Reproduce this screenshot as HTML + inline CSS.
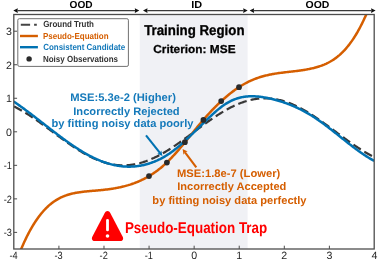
<!DOCTYPE html>
<html><head><meta charset="utf-8"><style>
html,body{margin:0;padding:0;background:#fff;}
body{width:381px;height:263px;overflow:hidden;}
svg{display:block;will-change:transform;text-rendering:geometricPrecision;font-family:"Liberation Sans",sans-serif;}
</style></head><body>
<svg width="381" height="263" viewBox="0 0 381 263">
<defs><clipPath id="ax"><rect x="13.8" y="14.5" width="360.4" height="234.5"/></clipPath></defs>
<rect x="139.8" y="14.5" width="107.8" height="234.5" fill="#F0F1F5"/>
<g clip-path="url(#ax)" fill="none" stroke-linejoin="round">
<path d="M13.80,106.41 L14.70,106.85 L15.61,107.31 L16.51,107.77 L17.41,108.24 L18.32,108.73 L19.22,109.22 L20.12,109.72 L21.03,110.23 L21.93,110.75 L22.83,111.28 L23.74,111.81 L24.64,112.36 L25.54,112.91 L26.45,113.47 L27.35,114.03 L28.25,114.60 L29.16,115.18 L30.06,115.77 L30.96,116.36 L31.87,116.96 L32.77,117.57 L33.67,118.18 L34.57,118.80 L35.48,119.42 L36.38,120.05 L37.28,120.68 L38.19,121.31 L39.09,121.95 L39.99,122.60 L40.90,123.25 L41.80,123.90 L42.70,124.55 L43.61,125.21 L44.51,125.87 L45.41,126.53 L46.32,127.20 L47.22,127.86 L48.12,128.53 L49.03,129.20 L49.93,129.87 L50.83,130.54 L51.74,131.21 L52.64,131.88 L53.54,132.56 L54.45,133.23 L55.35,133.90 L56.25,134.57 L57.16,135.24 L58.06,135.90 L58.96,136.57 L59.87,137.23 L60.77,137.90 L61.67,138.56 L62.58,139.21 L63.48,139.87 L64.38,140.52 L65.29,141.16 L66.19,141.81 L67.09,142.45 L68.00,143.08 L68.90,143.71 L69.80,144.34 L70.71,144.96 L71.61,145.57 L72.51,146.18 L73.42,146.79 L74.32,147.38 L75.22,147.98 L76.12,148.56 L77.03,149.14 L77.93,149.71 L78.83,150.28 L79.74,150.83 L80.64,151.38 L81.54,151.92 L82.45,152.46 L83.35,152.98 L84.25,153.50 L85.16,154.01 L86.06,154.50 L86.96,154.99 L87.87,155.47 L88.77,155.95 L89.67,156.41 L90.58,156.86 L91.48,157.30 L92.38,157.73 L93.29,158.15 L94.19,158.56 L95.09,158.96 L96.00,159.35 L96.90,159.73 L97.80,160.09 L98.71,160.45 L99.61,160.79 L100.51,161.12 L101.42,161.44 L102.32,161.75 L103.22,162.05 L104.13,162.33 L105.03,162.60 L105.93,162.86 L106.84,163.11 L107.74,163.34 L108.64,163.56 L109.55,163.77 L110.45,163.97 L111.35,164.15 L112.26,164.32 L113.16,164.48 L114.06,164.62 L114.96,164.75 L115.87,164.87 L116.77,164.97 L117.67,165.07 L118.58,165.14 L119.48,165.21 L120.38,165.26 L121.29,165.30 L122.19,165.32 L123.09,165.33 L124.00,165.33 L124.90,165.31 L125.80,165.28 L126.71,165.24 L127.61,165.18 L128.51,165.11 L129.42,165.03 L130.32,164.93 L131.22,164.82 L132.13,164.69 L133.03,164.56 L133.93,164.41 L134.84,164.25 L135.74,164.07 L136.64,163.88 L137.55,163.68 L138.45,163.46 L139.35,163.24 L140.26,163.00 L141.16,162.74 L142.06,162.48 L142.97,162.20 L143.87,161.91 L144.77,161.61 L145.68,161.30 L146.58,160.97 L147.48,160.63 L148.39,160.29 L149.29,159.93 L150.19,159.55 L151.10,159.17 L152.00,158.78 L152.90,158.37 L153.81,157.96 L154.71,157.53 L155.61,157.10 L156.51,156.65 L157.42,156.20 L158.32,155.73 L159.22,155.26 L160.13,154.77 L161.03,154.28 L161.93,153.77 L162.84,153.26 L163.74,152.74 L164.64,152.21 L165.55,151.68 L166.45,151.13 L167.35,150.58 L168.26,150.02 L169.16,149.45 L170.06,148.87 L170.97,148.29 L171.87,147.71 L172.77,147.11 L173.68,146.51 L174.58,145.90 L175.48,145.29 L176.39,144.67 L177.29,144.05 L178.19,143.42 L179.10,142.79 L180.00,142.15 L180.90,141.51 L181.81,140.87 L182.71,140.22 L183.61,139.57 L184.52,138.91 L185.42,138.25 L186.32,137.59 L187.23,136.93 L188.13,136.27 L189.03,135.60 L189.94,134.93 L190.84,134.26 L191.74,133.59 L192.65,132.92 L193.55,132.25 L194.45,131.58 L195.35,130.90 L196.26,130.23 L197.16,129.56 L198.06,128.89 L198.97,128.22 L199.87,127.56 L200.77,126.89 L201.68,126.23 L202.58,125.57 L203.48,124.91 L204.39,124.25 L205.29,123.60 L206.19,122.95 L207.10,122.30 L208.00,121.66 L208.90,121.02 L209.81,120.39 L210.71,119.76 L211.61,119.13 L212.52,118.51 L213.42,117.90 L214.32,117.29 L215.23,116.69 L216.13,116.09 L217.03,115.50 L217.94,114.92 L218.84,114.34 L219.74,113.77 L220.65,113.21 L221.55,112.65 L222.45,112.10 L223.36,111.57 L224.26,111.03 L225.16,110.51 L226.07,110.00 L226.97,109.49 L227.87,108.99 L228.78,108.50 L229.68,108.03 L230.58,107.56 L231.49,107.10 L232.39,106.65 L233.29,106.21 L234.19,105.78 L235.10,105.36 L236.00,104.95 L236.90,104.56 L237.81,104.17 L238.71,103.80 L239.61,103.43 L240.52,103.08 L241.42,102.74 L242.32,102.41 L243.23,102.09 L244.13,101.79 L245.03,101.49 L245.94,101.21 L246.84,100.94 L247.74,100.69 L248.65,100.44 L249.55,100.21 L250.45,99.99 L251.36,99.79 L252.26,99.59 L253.16,99.41 L254.07,99.24 L254.97,99.09 L255.87,98.95 L256.78,98.82 L257.68,98.71 L258.58,98.61 L259.49,98.52 L260.39,98.44 L261.29,98.38 L262.20,98.33 L263.10,98.30 L264.00,98.28 L264.91,98.27 L265.81,98.28 L266.71,98.30 L267.62,98.33 L268.52,98.37 L269.42,98.43 L270.33,98.51 L271.23,98.59 L272.13,98.69 L273.04,98.81 L273.94,98.93 L274.84,99.07 L275.74,99.22 L276.65,99.39 L277.55,99.57 L278.45,99.76 L279.36,99.97 L280.26,100.18 L281.16,100.41 L282.07,100.66 L282.97,100.91 L283.87,101.18 L284.78,101.46 L285.68,101.75 L286.58,102.05 L287.49,102.37 L288.39,102.70 L289.29,103.04 L290.20,103.39 L291.10,103.75 L292.00,104.12 L292.91,104.51 L293.81,104.90 L294.71,105.31 L295.62,105.73 L296.52,106.16 L297.42,106.59 L298.33,107.04 L299.23,107.50 L300.13,107.97 L301.04,108.45 L301.94,108.93 L302.84,109.43 L303.75,109.93 L304.65,110.45 L305.55,110.97 L306.46,111.50 L307.36,112.04 L308.26,112.58 L309.17,113.14 L310.07,113.70 L310.97,114.27 L311.88,114.85 L312.78,115.43 L313.68,116.02 L314.58,116.61 L315.49,117.22 L316.39,117.82 L317.29,118.44 L318.20,119.06 L319.10,119.68 L320.00,120.31 L320.91,120.94 L321.81,121.58 L322.71,122.22 L323.62,122.87 L324.52,123.52 L325.42,124.17 L326.33,124.83 L327.23,125.48 L328.13,126.15 L329.04,126.81 L329.94,127.47 L330.84,128.14 L331.75,128.81 L332.65,129.48 L333.55,130.15 L334.46,130.82 L335.36,131.49 L336.26,132.16 L337.17,132.84 L338.07,133.51 L338.97,134.18 L339.88,134.85 L340.78,135.52 L341.68,136.18 L342.59,136.85 L343.49,137.51 L344.39,138.17 L345.30,138.83 L346.20,139.49 L347.10,140.14 L348.01,140.79 L348.91,141.43 L349.81,142.07 L350.72,142.71 L351.62,143.34 L352.52,143.97 L353.43,144.60 L354.33,145.21 L355.23,145.83 L356.13,146.44 L357.04,147.04 L357.94,147.63 L358.84,148.22 L359.75,148.80 L360.65,149.38 L361.55,149.95 L362.46,150.51 L363.36,151.06 L364.26,151.61 L365.17,152.15 L366.07,152.68 L366.97,153.20 L367.88,153.71 L368.78,154.21 L369.68,154.71 L370.59,155.20 L371.49,155.67 L372.39,156.14 L373.30,156.60 L374.20,157.04" stroke="#383838" stroke-width="2.2" stroke-dasharray="8.8 4.1" stroke-dashoffset="-0.3"/>
<path d="M19.00,254.24 L19.87,252.08 L20.75,249.97 L21.62,247.91 L22.50,245.90 L23.37,243.94 L24.25,242.02 L25.12,240.16 L26.00,238.34 L26.87,236.56 L27.75,234.84 L28.62,233.16 L29.50,231.52 L30.37,229.93 L31.25,228.38 L32.12,226.88 L32.99,225.41 L33.87,223.99 L34.74,222.61 L35.62,221.27 L36.49,219.97 L37.37,218.72 L38.24,217.50 L39.12,216.31 L39.99,215.17 L40.87,214.06 L41.74,212.99 L42.62,211.96 L43.49,210.96 L44.37,210.00 L45.24,209.07 L46.12,208.17 L46.99,207.31 L47.86,206.48 L48.74,205.68 L49.61,204.91 L50.49,204.18 L51.36,203.47 L52.24,202.79 L53.11,202.14 L53.99,201.52 L54.86,200.93 L55.74,200.36 L56.61,199.82 L57.49,199.30 L58.36,198.80 L59.24,198.33 L60.11,197.89 L60.98,197.46 L61.86,197.05 L62.73,196.67 L63.61,196.31 L64.48,195.96 L65.36,195.63 L66.23,195.32 L67.11,195.03 L67.98,194.75 L68.86,194.49 L69.73,194.24 L70.61,194.01 L71.48,193.79 L72.36,193.58 L73.23,193.38 L74.11,193.20 L74.98,193.02 L75.85,192.85 L76.73,192.70 L77.60,192.55 L78.48,192.41 L79.35,192.27 L80.23,192.15 L81.10,192.03 L81.98,191.91 L82.85,191.81 L83.73,191.70 L84.60,191.60 L85.48,191.51 L86.35,191.42 L87.23,191.33 L88.10,191.25 L88.97,191.17 L89.85,191.09 L90.72,191.02 L91.60,190.94 L92.47,190.86 L93.35,190.79 L94.22,190.72 L95.10,190.64 L95.97,190.57 L96.85,190.49 L97.72,190.41 L98.60,190.33 L99.47,190.25 L100.35,190.16 L101.22,190.08 L102.10,189.99 L102.97,189.89 L103.84,189.80 L104.72,189.70 L105.59,189.60 L106.47,189.50 L107.34,189.39 L108.22,189.27 L109.09,189.16 L109.97,189.04 L110.84,188.91 L111.72,188.78 L112.59,188.65 L113.47,188.51 L114.34,188.36 L115.22,188.21 L116.09,188.05 L116.96,187.89 L117.84,187.72 L118.71,187.55 L119.59,187.37 L120.46,187.18 L121.34,186.98 L122.21,186.78 L123.09,186.57 L123.96,186.36 L124.84,186.13 L125.71,185.90 L126.59,185.66 L127.46,185.41 L128.34,185.16 L129.21,184.89 L130.09,184.62 L130.96,184.33 L131.83,184.04 L132.71,183.74 L133.58,183.43 L134.46,183.11 L135.33,182.77 L136.21,182.43 L137.08,182.08 L137.96,181.72 L138.83,181.35 L139.71,180.96 L140.58,180.57 L141.46,180.16 L142.33,179.74 L143.21,179.31 L144.08,178.87 L144.95,178.41 L145.83,177.95 L146.70,177.47 L147.58,176.97 L148.45,176.47 L149.33,175.95 L150.20,175.42 L151.08,174.87 L151.95,174.31 L152.83,173.74 L153.70,173.15 L154.58,172.55 L155.45,171.93 L156.33,171.30 L157.20,170.66 L158.08,169.99 L158.95,169.31 L159.82,168.62 L160.70,167.91 L161.57,167.19 L162.45,166.44 L163.32,165.68 L164.20,164.91 L165.07,164.11 L165.95,163.30 L166.82,162.48 L167.70,161.63 L168.57,160.77 L169.45,159.89 L170.32,158.99 L171.20,158.08 L172.07,157.16 L172.94,156.22 L173.82,155.27 L174.69,154.30 L175.57,153.33 L176.44,152.34 L177.32,151.34 L178.19,150.33 L179.07,149.31 L179.94,148.29 L180.82,147.25 L181.69,146.21 L182.57,145.16 L183.44,144.11 L184.32,143.04 L185.19,141.98 L186.07,140.91 L186.94,139.84 L187.81,138.76 L188.69,137.68 L189.56,136.60 L190.44,135.52 L191.31,134.44 L192.19,133.36 L193.06,132.28 L193.94,131.20 L194.81,130.12 L195.69,129.05 L196.56,127.98 L197.44,126.92 L198.31,125.85 L199.19,124.80 L200.06,123.75 L200.93,122.71 L201.81,121.67 L202.68,120.65 L203.56,119.63 L204.43,118.62 L205.31,117.62 L206.18,116.63 L207.06,115.65 L207.93,114.68 L208.81,113.72 L209.68,112.77 L210.56,111.83 L211.43,110.90 L212.31,109.98 L213.18,109.07 L214.06,108.17 L214.93,107.28 L215.80,106.40 L216.68,105.53 L217.55,104.67 L218.43,103.82 L219.30,102.99 L220.18,102.16 L221.05,101.35 L221.93,100.54 L222.80,99.75 L223.68,98.96 L224.55,98.19 L225.43,97.43 L226.30,96.68 L227.18,95.95 L228.05,95.22 L228.92,94.51 L229.80,93.81 L230.67,93.12 L231.55,92.44 L232.42,91.77 L233.30,91.12 L234.17,90.47 L235.05,89.84 L235.92,89.23 L236.80,88.62 L237.67,88.03 L238.55,87.45 L239.42,86.88 L240.30,86.32 L241.17,85.78 L242.05,85.25 L242.92,84.74 L243.79,84.23 L244.67,83.74 L245.54,83.27 L246.42,82.80 L247.29,82.35 L248.17,81.91 L249.04,81.49 L249.92,81.08 L250.79,80.68 L251.67,80.29 L252.54,79.91 L253.42,79.55 L254.29,79.20 L255.17,78.86 L256.04,78.53 L256.91,78.21 L257.79,77.90 L258.66,77.60 L259.54,77.31 L260.41,77.04 L261.29,76.77 L262.16,76.51 L263.04,76.26 L263.91,76.02 L264.79,75.79 L265.66,75.57 L266.54,75.36 L267.41,75.16 L268.29,74.96 L269.16,74.77 L270.04,74.59 L270.91,74.41 L271.78,74.25 L272.66,74.09 L273.53,73.93 L274.41,73.78 L275.28,73.64 L276.16,73.50 L277.03,73.37 L277.91,73.24 L278.78,73.11 L279.66,72.99 L280.53,72.87 L281.41,72.76 L282.28,72.65 L283.16,72.54 L284.03,72.43 L284.90,72.33 L285.78,72.23 L286.65,72.12 L287.53,72.02 L288.40,71.93 L289.28,71.83 L290.15,71.73 L291.03,71.63 L291.90,71.53 L292.78,71.43 L293.65,71.33 L294.53,71.22 L295.40,71.12 L296.28,71.01 L297.15,70.90 L298.03,70.79 L298.90,70.68 L299.77,70.56 L300.65,70.43 L301.52,70.31 L302.40,70.18 L303.27,70.04 L304.15,69.90 L305.02,69.76 L305.90,69.61 L306.77,69.45 L307.65,69.29 L308.52,69.12 L309.40,68.94 L310.27,68.76 L311.15,68.57 L312.02,68.37 L312.89,68.16 L313.77,67.95 L314.64,67.72 L315.52,67.49 L316.39,67.25 L317.27,67.00 L318.14,66.74 L319.02,66.46 L319.89,66.18 L320.77,65.88 L321.64,65.56 L322.52,65.24 L323.39,64.90 L324.27,64.54 L325.14,64.16 L326.02,63.77 L326.89,63.36 L327.76,62.94 L328.64,62.49 L329.51,62.02 L330.39,61.53 L331.26,61.02 L332.14,60.49 L333.01,59.94 L333.89,59.36 L334.76,58.75 L335.64,58.12 L336.51,57.47 L337.39,56.79 L338.26,56.08 L339.14,55.34 L340.01,54.57 L340.88,53.78 L341.76,52.95 L342.63,52.09 L343.51,51.20 L344.38,50.28 L345.26,49.32 L346.13,48.33 L347.01,47.30 L347.88,46.24 L348.76,45.15 L349.63,44.01 L350.51,42.84 L351.38,41.63 L352.26,40.38 L353.13,39.09 L354.01,37.76 L354.88,36.38 L355.75,34.97 L356.63,33.51 L357.50,32.01 L358.38,30.46 L359.25,28.87 L360.13,27.23 L361.00,25.55 L361.88,23.82 L362.75,22.04 L363.63,20.21 L364.50,18.33 L365.38,16.40 L366.25,14.43 L367.13,12.39 L368.00,10.31" stroke="#D55E00" stroke-width="2.5"/>
<path d="M13.80,101.60 L14.70,102.22 L15.61,102.84 L16.51,103.46 L17.41,104.09 L18.32,104.73 L19.22,105.37 L20.12,106.01 L21.03,106.66 L21.93,107.32 L22.83,107.97 L23.74,108.63 L24.64,109.30 L25.54,109.97 L26.45,110.64 L27.35,111.31 L28.25,111.99 L29.16,112.67 L30.06,113.35 L30.96,114.04 L31.87,114.73 L32.77,115.42 L33.67,116.11 L34.57,116.80 L35.48,117.50 L36.38,118.20 L37.28,118.90 L38.19,119.60 L39.09,120.30 L39.99,121.00 L40.90,121.70 L41.80,122.40 L42.70,123.10 L43.61,123.81 L44.51,124.51 L45.41,125.21 L46.32,125.91 L47.22,126.61 L48.12,127.32 L49.03,128.02 L49.93,128.71 L50.83,129.41 L51.74,130.11 L52.64,130.80 L53.54,131.49 L54.45,132.19 L55.35,132.87 L56.25,133.56 L57.16,134.24 L58.06,134.92 L58.96,135.60 L59.87,136.28 L60.77,136.95 L61.67,137.62 L62.58,138.28 L63.48,138.95 L64.38,139.60 L65.29,140.26 L66.19,140.91 L67.09,141.55 L68.00,142.19 L68.90,142.83 L69.80,143.46 L70.71,144.09 L71.61,144.71 L72.51,145.33 L73.42,145.94 L74.32,146.54 L75.22,147.14 L76.12,147.73 L77.03,148.32 L77.93,148.90 L78.83,149.47 L79.74,150.04 L80.64,150.60 L81.54,151.15 L82.45,151.70 L83.35,152.23 L84.25,152.76 L85.16,153.29 L86.06,153.80 L86.96,154.31 L87.87,154.81 L88.77,155.30 L89.67,155.78 L90.58,156.25 L91.48,156.71 L92.38,157.17 L93.29,157.61 L94.19,158.05 L95.09,158.48 L96.00,158.89 L96.90,159.30 L97.80,159.69 L98.71,160.08 L99.61,160.45 L100.51,160.82 L101.42,161.17 L102.32,161.52 L103.22,161.85 L104.13,162.17 L105.03,162.49 L105.93,162.79 L106.84,163.08 L107.74,163.36 L108.64,163.62 L109.55,163.88 L110.45,164.13 L111.35,164.36 L112.26,164.59 L113.16,164.80 L114.06,165.00 L114.96,165.19 L115.87,165.37 L116.77,165.54 L117.67,165.69 L118.58,165.84 L119.48,165.97 L120.38,166.09 L121.29,166.20 L122.19,166.30 L123.09,166.38 L124.00,166.46 L124.90,166.52 L125.80,166.57 L126.71,166.61 L127.61,166.63 L128.51,166.65 L129.42,166.65 L130.32,166.64 L131.22,166.61 L132.13,166.58 L133.03,166.53 L133.93,166.47 L134.84,166.39 L135.74,166.31 L136.64,166.21 L137.55,166.10 L138.45,165.97 L139.35,165.84 L140.26,165.69 L141.16,165.52 L142.06,165.35 L142.97,165.16 L143.87,164.96 L144.77,164.74 L145.68,164.51 L146.58,164.27 L147.48,164.02 L148.39,163.75 L149.29,163.47 L150.19,163.17 L151.10,162.86 L152.00,162.54 L152.90,162.20 L153.81,161.86 L154.71,161.49 L155.61,161.11 L156.51,160.72 L157.42,160.32 L158.32,159.90 L159.22,159.46 L160.13,159.02 L161.03,158.55 L161.93,158.08 L162.84,157.59 L163.74,157.08 L164.64,156.56 L165.55,156.02 L166.45,155.47 L167.35,154.91 L168.26,154.32 L169.16,153.73 L170.06,153.11 L170.97,152.48 L171.87,151.84 L172.77,151.18 L173.68,150.50 L174.58,149.81 L175.48,149.09 L176.39,148.37 L177.29,147.63 L178.19,146.88 L179.10,146.11 L180.00,145.33 L180.90,144.54 L181.81,143.74 L182.71,142.93 L183.61,142.11 L184.52,141.28 L185.42,140.45 L186.32,139.61 L187.23,138.76 L188.13,137.91 L189.03,137.05 L189.94,136.19 L190.84,135.33 L191.74,134.46 L192.65,133.59 L193.55,132.72 L194.45,131.84 L195.35,130.96 L196.26,130.08 L197.16,129.20 L198.06,128.32 L198.97,127.44 L199.87,126.55 L200.77,125.67 L201.68,124.78 L202.58,123.90 L203.48,123.01 L204.39,122.13 L205.29,121.25 L206.19,120.37 L207.10,119.50 L208.00,118.63 L208.90,117.77 L209.81,116.91 L210.71,116.06 L211.61,115.22 L212.52,114.39 L213.42,113.57 L214.32,112.75 L215.23,111.95 L216.13,111.17 L217.03,110.40 L217.94,109.64 L218.84,108.90 L219.74,108.17 L220.65,107.46 L221.55,106.77 L222.45,106.10 L223.36,105.45 L224.26,104.83 L225.16,104.22 L226.07,103.64 L226.97,103.08 L227.87,102.55 L228.78,102.04 L229.68,101.56 L230.58,101.10 L231.49,100.66 L232.39,100.25 L233.29,99.86 L234.19,99.49 L235.10,99.15 L236.00,98.82 L236.90,98.52 L237.81,98.24 L238.71,97.98 L239.61,97.74 L240.52,97.52 L241.42,97.32 L242.32,97.13 L243.23,96.97 L244.13,96.82 L245.03,96.69 L245.94,96.58 L246.84,96.49 L247.74,96.41 L248.65,96.35 L249.55,96.30 L250.45,96.27 L251.36,96.25 L252.26,96.25 L253.16,96.26 L254.07,96.29 L254.97,96.33 L255.87,96.38 L256.78,96.44 L257.68,96.52 L258.58,96.61 L259.49,96.71 L260.39,96.82 L261.29,96.94 L262.20,97.07 L263.10,97.21 L264.00,97.36 L264.91,97.51 L265.81,97.68 L266.71,97.85 L267.62,98.03 L268.52,98.22 L269.42,98.42 L270.33,98.62 L271.23,98.83 L272.13,99.04 L273.04,99.27 L273.94,99.49 L274.84,99.73 L275.74,99.97 L276.65,100.22 L277.55,100.47 L278.45,100.73 L279.36,101.00 L280.26,101.28 L281.16,101.56 L282.07,101.85 L282.97,102.15 L283.87,102.45 L284.78,102.76 L285.68,103.08 L286.58,103.41 L287.49,103.74 L288.39,104.09 L289.29,104.43 L290.20,104.79 L291.10,105.16 L292.00,105.53 L292.91,105.91 L293.81,106.30 L294.71,106.69 L295.62,107.10 L296.52,107.51 L297.42,107.93 L298.33,108.36 L299.23,108.79 L300.13,109.24 L301.04,109.69 L301.94,110.16 L302.84,110.63 L303.75,111.10 L304.65,111.59 L305.55,112.09 L306.46,112.59 L307.36,113.11 L308.26,113.63 L309.17,114.16 L310.07,114.70 L310.97,115.25 L311.88,115.81 L312.78,116.38 L313.68,116.96 L314.58,117.54 L315.49,118.14 L316.39,118.74 L317.29,119.36 L318.20,119.98 L319.10,120.61 L320.00,121.24 L320.91,121.89 L321.81,122.54 L322.71,123.20 L323.62,123.86 L324.52,124.53 L325.42,125.21 L326.33,125.89 L327.23,126.57 L328.13,127.26 L329.04,127.96 L329.94,128.66 L330.84,129.36 L331.75,130.07 L332.65,130.77 L333.55,131.49 L334.46,132.20 L335.36,132.92 L336.26,133.63 L337.17,134.35 L338.07,135.07 L338.97,135.79 L339.88,136.51 L340.78,137.23 L341.68,137.95 L342.59,138.67 L343.49,139.39 L344.39,140.11 L345.30,140.83 L346.20,141.54 L347.10,142.25 L348.01,142.96 L348.91,143.67 L349.81,144.37 L350.72,145.07 L351.62,145.76 L352.52,146.45 L353.43,147.14 L354.33,147.82 L355.23,148.50 L356.13,149.17 L357.04,149.83 L357.94,150.49 L358.84,151.14 L359.75,151.79 L360.65,152.43 L361.55,153.06 L362.46,153.68 L363.36,154.29 L364.26,154.90 L365.17,155.49 L366.07,156.08 L366.97,156.66 L367.88,157.23 L368.78,157.78 L369.68,158.33 L370.59,158.87 L371.49,159.39 L372.39,159.91 L373.30,160.41 L374.20,160.90" stroke="#0072B2" stroke-width="2.5"/>
</g>
<circle cx="149.0" cy="176.1" r="2.85" fill="#2a2a2a"/><circle cx="166.9" cy="162.6" r="2.85" fill="#2a2a2a"/><circle cx="184.9" cy="142.2" r="2.85" fill="#2a2a2a"/><circle cx="203.4" cy="119.9" r="2.85" fill="#2a2a2a"/><circle cx="221.2" cy="101.1" r="2.85" fill="#2a2a2a"/><circle cx="239.0" cy="87.2" r="2.85" fill="#2a2a2a"/>
<g stroke="#4d4d4d" stroke-width="1"><line x1="58.91" y1="249.0" x2="58.91" y2="245.7" /><line x1="13.8" y1="232.39" x2="17.1" y2="232.39" /><line x1="103.99" y1="249.0" x2="103.99" y2="245.7" /><line x1="13.8" y1="198.86" x2="17.1" y2="198.86" /><line x1="149.07" y1="249.0" x2="149.07" y2="245.7" /><line x1="13.8" y1="165.33" x2="17.1" y2="165.33" /><line x1="194.15" y1="249.0" x2="194.15" y2="245.7" /><line x1="13.8" y1="131.80" x2="17.1" y2="131.80" /><line x1="239.23" y1="249.0" x2="239.23" y2="245.7" /><line x1="13.8" y1="98.27" x2="17.1" y2="98.27" /><line x1="284.31" y1="249.0" x2="284.31" y2="245.7" /><line x1="13.8" y1="64.74" x2="17.1" y2="64.74" /><line x1="329.39" y1="249.0" x2="329.39" y2="245.7" /><line x1="13.8" y1="31.21" x2="17.1" y2="31.21" /></g>
<rect x="13.8" y="14.5" width="360.4" height="234.5" fill="none" stroke="#4d4d4d" stroke-width="1.3"/>
<g font-size="10.6" fill="#262626"><text x="9.43" y="258.6" textLength="8.2" lengthAdjust="spacingAndGlyphs">-4</text><text x="54.51" y="258.6" textLength="8.2" lengthAdjust="spacingAndGlyphs">-3</text><text x="99.59" y="258.6" textLength="8.2" lengthAdjust="spacingAndGlyphs">-2</text><text x="144.67" y="258.6" textLength="8.2" lengthAdjust="spacingAndGlyphs">-1</text><text x="194.15" y="258.6" text-anchor="middle">0</text><text x="239.23" y="258.6" text-anchor="middle">1</text><text x="284.31" y="258.6" text-anchor="middle">2</text><text x="329.39" y="258.6" text-anchor="middle">3</text><text x="374.47" y="258.6" text-anchor="middle">4</text></g>
<g font-size="10.6" fill="#262626"><text x="3.80" y="236.39" textLength="8.2" lengthAdjust="spacingAndGlyphs">-3</text><text x="3.80" y="202.86" textLength="8.2" lengthAdjust="spacingAndGlyphs">-2</text><text x="3.80" y="169.33" textLength="8.2" lengthAdjust="spacingAndGlyphs">-1</text><text x="12.00" y="135.80" text-anchor="end">0</text><text x="12.00" y="102.27" text-anchor="end">1</text><text x="12.00" y="68.74" text-anchor="end">2</text><text x="12.00" y="35.21" text-anchor="end">3</text></g>
<line x1="17.5" y1="10.55" x2="135.10000000000002" y2="10.55" stroke="#3a3a3a" stroke-width="1.35"/><path d="M13.3,10.55 L17.8,8.200000000000001 L17.5,10.55 L17.8,12.9 Z" fill="#111"/><path d="M139.3,10.55 L134.8,8.200000000000001 L135.10000000000002,10.55 L134.8,12.9 Z" fill="#111"/>
<line x1="147.2" y1="10.55" x2="243.5" y2="10.55" stroke="#3a3a3a" stroke-width="1.35"/><path d="M143.0,10.55 L147.5,8.200000000000001 L147.2,10.55 L147.5,12.9 Z" fill="#111"/><path d="M247.7,10.55 L243.2,8.200000000000001 L243.5,10.55 L243.2,12.9 Z" fill="#111"/>
<line x1="253.79999999999998" y1="10.55" x2="371.40000000000003" y2="10.55" stroke="#3a3a3a" stroke-width="1.35"/><path d="M249.6,10.55 L254.1,8.200000000000001 L253.79999999999998,10.55 L254.1,12.9 Z" fill="#111"/><path d="M375.6,10.55 L371.1,8.200000000000001 L371.40000000000003,10.55 L371.1,12.9 Z" fill="#111"/>
<text x="69.59" y="7.6" font-size="10.2" font-weight="bold" fill="#000" textLength="23.04" lengthAdjust="spacingAndGlyphs">OOD</text>
<text x="191.27" y="7.7" font-size="10.2" font-weight="bold" fill="#000" textLength="10.89" lengthAdjust="spacingAndGlyphs">ID</text>
<text x="305.57" y="7.6" font-size="10.2" font-weight="bold" fill="#000" textLength="23.87" lengthAdjust="spacingAndGlyphs">OOD</text>
<rect x="17.8" y="18.7" width="110.6" height="47.7" rx="1.5" fill="#fff" stroke="#707070" stroke-width="1"/>
<line x1="20.8" y1="24.8" x2="36.8" y2="24.8" stroke="#444" stroke-width="2.1" stroke-dasharray="9.3 4"/>
<line x1="20" y1="36.0" x2="37.9" y2="36.0" stroke="#D55E00" stroke-width="2.4"/>
<line x1="20" y1="47.2" x2="37.9" y2="47.2" stroke="#0072B2" stroke-width="2.4"/>
<circle cx="29.1" cy="58.9" r="2.7" fill="#2a2a2a"/>
<text x="43.17" y="26.9" font-size="8.8" font-weight="bold" fill="#333" textLength="50.82" lengthAdjust="spacingAndGlyphs">Ground Truth</text>
<text x="42.97" y="38.5" font-size="8.8" font-weight="bold" fill="#D55E00" textLength="65.63" lengthAdjust="spacingAndGlyphs">Pseudo-Equation</text>
<text x="43.17" y="50.1" font-size="8.8" font-weight="bold" fill="#1479BA" textLength="82.00" lengthAdjust="spacingAndGlyphs">Consistent Candidate</text>
<text x="42.96" y="61.6" font-size="8.8" font-weight="bold" fill="#333" textLength="75.06" lengthAdjust="spacingAndGlyphs">Noisy Observations</text>
<text x="144.15" y="34.5" font-size="14.2" font-weight="bold" fill="#000" stroke="#000" stroke-width="0.3" textLength="100.37" lengthAdjust="spacingAndGlyphs">Training Region</text>
<text x="153.21" y="53.2" font-size="11.5" font-weight="bold" fill="#000" stroke="#000" stroke-width="0.25" textLength="82.35" lengthAdjust="spacingAndGlyphs">Criterion: MSE</text>
<text x="70.15" y="101.1" font-size="11" font-weight="bold" fill="#1479BA" textLength="105.81" lengthAdjust="spacingAndGlyphs">MSE:5.3e-2 (Higher)</text>
<text x="73.25" y="114.5" font-size="11" font-weight="bold" fill="#1479BA" textLength="106.38" lengthAdjust="spacingAndGlyphs">Incorrectly Rejected</text>
<text x="51.57" y="127.2" font-size="11" font-weight="bold" fill="#1479BA" textLength="141.89" lengthAdjust="spacingAndGlyphs">by fitting noisy data poorly</text>
<line x1="146.0" y1="135.3" x2="159.92" y2="152.86" stroke="#0072B2" stroke-width="2.1"/><path d="M162.4,156.0 L157.26,153.70 L159.92,152.86 L161.33,150.47 Z" fill="#0072B2"/>
<text x="177.05" y="177.0" font-size="11" font-weight="bold" fill="#D55E00" textLength="103.21" lengthAdjust="spacingAndGlyphs">MSE:1.8e-7 (Lower)</text>
<text x="177.26" y="190.4" font-size="11" font-weight="bold" fill="#D55E00" textLength="109.07" lengthAdjust="spacingAndGlyphs">Incorrectly Accepted</text>
<text x="152.37" y="204.0" font-size="11" font-weight="bold" fill="#D55E00" textLength="154.19" lengthAdjust="spacingAndGlyphs">by fitting noisy data perfectly</text>
<line x1="196.3" y1="167.4" x2="185.00" y2="152.30" stroke="#D55E00" stroke-width="2.1"/><path d="M182.6,149.1 L187.68,151.54 L185.00,152.30 L183.52,154.66 Z" fill="#D55E00"/>
<path d="M107.5,210.9 C108.8,210.9 109.6,211.8 110.4,213.2 L122.7,236.8 C123.7,238.8 122.8,241.1 120.4,241.1 L94.6,241.1 C92.2,241.1 91.3,238.8 92.3,236.8 L104.6,213.2 C105.4,211.8 106.2,210.9 107.5,210.9 Z" fill="#FF0000"/>
<rect x="106.1" y="218.9" width="2.8" height="12.4" rx="1.4" fill="#fff"/>
<circle cx="107.5" cy="236.0" r="1.8" fill="#fff"/>
<text x="124.90" y="232.6" font-size="15.6" font-weight="bold" fill="#FF0000" textLength="142.35" lengthAdjust="spacingAndGlyphs">Pseudo-Equation Trap</text>
</svg>
</body></html>
